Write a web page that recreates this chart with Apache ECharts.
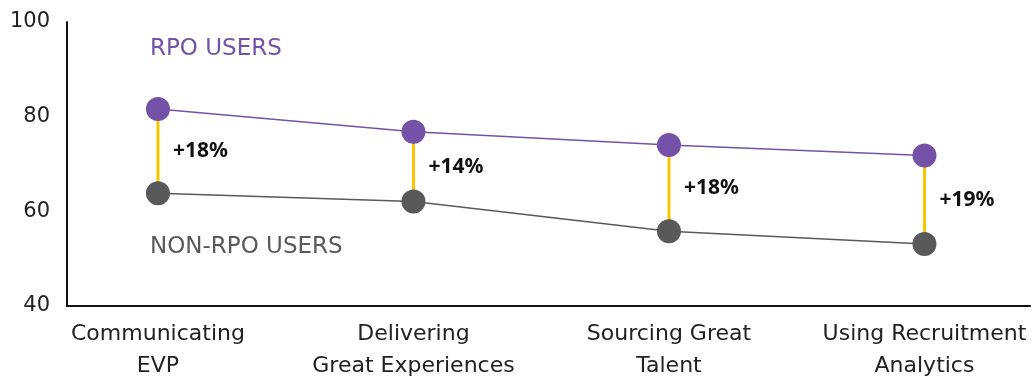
<!DOCTYPE html>
<html>
<head>
<meta charset="utf-8">
<script src="https://cdn.jsdelivr.net/npm/echarts@6/dist/echarts.min.js"></script>
<style>html,body{margin:0;padding:0;background:#fff}#c{width:1034px;height:377px}</style>
</head>
<body>
<div id="c"></div>
<script>
var categories = ['Communicating\nEVP', 'Delivering\nGreat Experiences', 'Sourcing Great\nTalent', 'Using Recruitment\nAnalytics'];
var rpoUsers = [81.6, 76.8, 74, 71.8];
var nonRpoUsers = [63.8, 62.1, 55.8, 53.1];
var gapLabels = ['+18%', '+14%', '+18%', '+19%'];
var yTicks = [40, 60, 80, 100];

var FONT = '"DejaVu Sans", sans-serif';
var chart = echarts.init(document.getElementById('c'));
var idx = categories.map(function (_, i) { return i; });

chart.setOption({
  animation: false,
  grid: { left: 67, right: 4, top: 22, bottom: 71, outerBoundsMode: 'none', containLabel: false },
  xAxis: {
    type: 'value', min: -0.356, max: 3.413,
    splitLine: { show: false },
    axisTick: { show: false },
    axisLine: { show: true, onZero: false, lineStyle: { color: '#111', width: 2 } },
    axisLabel: {
      customValues: idx,
      formatter: function (v) { return categories[Math.round(v)]; },
      color: '#222', fontSize: 22, fontFamily: FONT, lineHeight: 32, margin: 12, align: 'center'
    }
  },
  yAxis: {
    type: 'value', min: 40, max: 100, interval: 20,
    splitLine: { show: false },
    axisTick: { show: false },
    axisLine: { show: true, onZero: false, lineStyle: { color: '#111', width: 2 } },
    axisLabel: { color: '#222', fontSize: 21, fontFamily: FONT, margin: 17, customValues: yTicks }
  },
  graphic: [
    { type: 'text', left: 150, top: 38, style: { text: 'RPO USERS', fill: '#7352a8', fontSize: 23, fontFamily: FONT } },
    { type: 'text', left: 150, top: 236, style: { text: 'NON-RPO USERS', fill: '#58595b', fontSize: 23, fontFamily: FONT } }
  ],
  series: [
    {
      type: 'custom', z: 1,
      data: idx.map(function (i) { return [i, rpoUsers[i], nonRpoUsers[i]]; }),
      renderItem: function (params, api) {
        var a = api.coord([api.value(0), api.value(1)]);
        var b = api.coord([api.value(0), api.value(2)]);
        return {
          type: 'group',
          children: [
            { type: 'line', shape: { x1: a[0], y1: a[1], x2: b[0], y2: b[1] }, style: { stroke: '#f7c600', lineWidth: 3 } },
            { type: 'text', x: a[0] + 15, y: (a[1] + b[1]) / 2,
              style: { text: gapLabels[params.dataIndex], fill: '#111', fontSize: 21, fontWeight: 'bold', fontFamily: '"Noto Sans", sans-serif', verticalAlign: 'middle' } }
          ]
        };
      }
    },
    {
      type: 'line', z: 3,
      data: idx.map(function (i) { return [i, rpoUsers[i]]; }),
      symbol: 'circle', symbolSize: 24,
      lineStyle: { color: '#7352a8', width: 1.5 },
      itemStyle: { color: '#7352a8' }
    },
    {
      type: 'line', z: 3,
      data: idx.map(function (i) { return [i, nonRpoUsers[i]]; }),
      symbol: 'circle', symbolSize: 24,
      lineStyle: { color: '#58595b', width: 1.5 },
      itemStyle: { color: '#58595b' }
    }
  ]
});
</script>
</body>
</html>
